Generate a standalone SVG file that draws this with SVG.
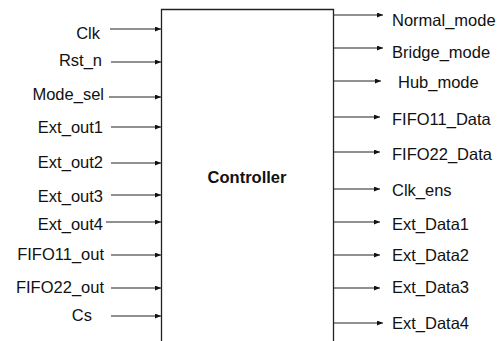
<svg xmlns="http://www.w3.org/2000/svg" width="503" height="341" viewBox="0 0 503 341">
<defs>
<marker id="ah" markerWidth="6" markerHeight="5" refX="6" refY="2.5" orient="auto" markerUnits="userSpaceOnUse">
<path d="M0,0 L6,2.5 L0,5 Z" fill="#111"/>
</marker>
<style>
text{font-family:"Liberation Sans",Arial,sans-serif;font-size:16.5px;fill:#111}
.l{text-anchor:end}
.b{font-weight:bold;text-anchor:middle}
.c line{stroke:#222;stroke-width:1;marker-end:url(#ah)}
</style>
</defs>
<rect width="503" height="341" fill="#fff"/>
<g id="controller">
<path d="M161.5,345 V9.5 H333.5 V345" fill="none" stroke="#222" stroke-width="1.3"/>
<text class="b" x="247" y="183">Controller</text>
</g>
<g id="inputs">
<text class="l" x="100" y="39">Clk</text>
<text class="l" x="102" y="66">Rst_n</text>
<text class="l" x="104" y="100">Mode_sel</text>
<text class="l" x="103" y="133">Ext_out1</text>
<text class="l" x="103" y="168">Ext_out2</text>
<text class="l" x="103" y="201.5">Ext_out3</text>
<text class="l" x="103" y="230">Ext_out4</text>
<text class="l" x="104" y="260">FIFO11_out</text>
<text class="l" x="104" y="293">FIFO22_out</text>
<text class="l" x="92" y="320.5">Cs</text>
</g>
<g id="outputs">
<text x="392" y="26">Normal_mode</text>
<text x="392" y="57.5">Bridge_mode</text>
<text x="398" y="88">Hub_mode</text>
<text x="392" y="125">FIFO11_Data</text>
<text x="392" y="160">FIFO22_Data</text>
<text x="392" y="196">Clk_ens</text>
<text x="392" y="230">Ext_Data1</text>
<text x="392" y="261">Ext_Data2</text>
<text x="392" y="293">Ext_Data3</text>
<text x="392" y="329">Ext_Data4</text>
</g>
<g id="connectors" class="c">
<line x1="110" y1="29" x2="161" y2="29"/>
<line x1="111" y1="62" x2="161" y2="62"/>
<line x1="109" y1="97" x2="161" y2="97"/>
<line x1="111" y1="127" x2="161" y2="127"/>
<line x1="111" y1="163" x2="161" y2="163"/>
<line x1="111" y1="195" x2="161" y2="195"/>
<line x1="106" y1="222" x2="161" y2="222"/>
<line x1="111" y1="255" x2="161" y2="255"/>
<line x1="111" y1="288" x2="161" y2="288"/>
<line x1="111" y1="316" x2="161" y2="316"/>
<line x1="334" y1="15" x2="383" y2="15"/>
<line x1="334" y1="48" x2="383" y2="48"/>
<line x1="334" y1="81" x2="381" y2="81"/>
<line x1="334" y1="117" x2="380" y2="117"/>
<line x1="334" y1="152" x2="380" y2="152"/>
<line x1="334" y1="189" x2="380" y2="189"/>
<line x1="334" y1="222" x2="380" y2="222"/>
<line x1="334" y1="255" x2="380" y2="255"/>
<line x1="334" y1="288" x2="380" y2="288"/>
<line x1="334" y1="323" x2="383" y2="323"/>
</g>
</svg>
